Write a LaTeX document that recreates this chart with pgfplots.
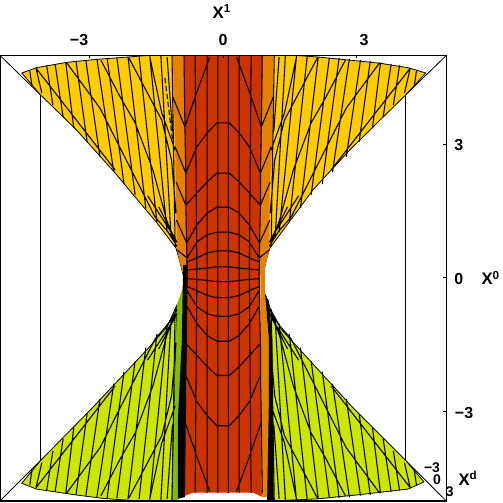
\documentclass[border=0pt]{standalone}
\usepackage{fontspec}
\setmainfont{Liberation Sans}
\usepackage{pgfplots}
\usepackage{pgfplotstable}
\pgfplotsset{compat=1.18}
\definecolor{surfyellow}{RGB}{255,204,0}
\definecolor{surforange}{RGB}{230,128,0}
\definecolor{surfred}{RGB}{204,51,0}
\definecolor{surflime}{RGB}{204,230,0}
\definecolor{surfgreen}{RGB}{128,191,0}

% mesh of the outer sheet, one quadrant (the sheet is mirrored in X^1 and X^0)
\pgfplotstableread{
x y
-4.35 4.66
-4.30 4.32
nan nan
-4.21 4.72
-4.08 4.16
nan nan
-3.97 4.78
-3.83 3.89
nan nan
-3.78 4.81
-3.60 3.62
nan nan
-3.54 4.84
-3.36 3.37
nan nan
-3.31 4.88
-3.06 3.06
nan nan
-3.09 4.90
-2.77 2.72
nan nan
-2.84 4.93
-2.46 2.38
nan nan
-2.61 4.95
-2.23 2.11
nan nan
-2.39 4.95
-1.98 1.87
nan nan
-2.14 4.97
-1.74 1.57
nan nan
-1.89 4.97
-1.49 1.26
nan nan
-1.65 4.99
-1.26 1.03
nan nan
-1.40 4.99
-1.17 0.90
nan nan
-1.15 5.00
-1.08 0.70
nan nan
-4.21 4.72
-2.43 2.43
nan nan
-3.52 4.84
-2.77 3.82
-1.53 1.37
-1.25 1.05
-1.04 0.72
nan nan
-2.75 4.90
-2.32 4.08
-1.98 3.49
-1.58 2.43
-1.27 1.30
-1.05 0.70
nan nan
-2.12 4.95
-1.38 3.55
-1.16 2.65
-1.06 1.46
nan nan
-1.65 4.97
-1.38 3.71
-1.08 2.88
nan nan
-1.45 1.60
-1.04 0.80
nan nan
-1.26 4.97
-1.14 3.30
nan nan
-1.70 1.85
-1.15 1.00
}\outermesh

% mesh of the central sheet, one quadrant
\pgfplotstableread{
x y
-0.88 5.00
-0.86 3.40
-0.84 2.36
-0.84 1.64
-0.82 0.79
-0.81 0.08
nan nan
-0.63 5.00
-0.59 0.08
nan nan
-0.36 5.00
-0.36 0.08
nan nan
-0.12 5.00
-0.12 0.08
nan nan
-0.86 3.40
-0.60 4.16
-0.30 4.97
nan nan
-0.84 2.36
-0.59 2.95
-0.36 3.26
-0.14 3.49
0 3.49
nan nan
-0.84 1.64
-0.59 1.91
-0.36 2.16
-0.14 2.36
0 2.36
nan nan
-0.82 0.79
-0.59 1.19
-0.36 1.46
-0.14 1.59
0 1.59
nan nan
-0.81 0.45
-0.59 0.81
-0.36 0.97
-0.14 1.03
0 1.03
nan nan
-0.81 0.36
-0.59 0.45
-0.36 0.56
-0.14 0.61
0 0.61
nan nan
-0.81 0.18
-0.59 0.20
-0.36 0.22
-0.14 0.25
0 0.25
}\centermesh

% short lines in the orange band, top half only
\pgfplotstableread{
x y
-1.13 4.07
-0.86 3.40
nan nan
-1.08 2.95
-0.84 2.36
nan nan
-1.06 2.16
-0.84 1.64
nan nan
-1.05 1.30
-0.82 0.79
nan nan
-1.04 0.63
-0.81 0.45
}\armmesh

\tikzset{
    lab/.style={font=\bfseries\fontsize{12}{14}\selectfont, inner sep=0pt},
    depthlab/.style={font=\bfseries\fontsize{10.5}{12}\selectfont, inner sep=0pt},
    axlab/.style={font=\bfseries\fontsize{12.5}{14}\selectfont, inner sep=0pt},
}

\begin{document}
\begin{tikzpicture}
\useasboundingbox (0,-1.5pt) rectangle (377.25pt,375.7pt);
\begin{axis}[
    at={(0,0)}, anchor=south west,
    scale only axis, width=334.7pt, height=334.1pt,
    xmin=-5.02, xmax=5.02, ymin=-5.017, ymax=5.005,
    axis on top, clip=false,
    axis line style={black, line width=0.9pt},
    xtick={-3,0,3}, ytick={-3,0,3},
    xtick pos=top, ytick pos=right, tick align=inside,
    major tick length=2.2pt,
    tick style={black, line width=0.7pt},
    xticklabel=\empty, yticklabel=\empty,
    unbounded coords=jump,
]
    % back of the box
    \addplot [black, line width=0.75pt] coordinates {
        (-4.11,4.12) (4.11,4.12) (4.11,-4.11) (-4.11,-4.11) (-4.11,4.12)
    };
    \addplot [black, line width=0.6pt] coordinates {
        (-5.02,5.005) (-4.11,4.12) (nan,nan) (5.02,5.005) (4.11,4.12) (nan,nan)
        (5.02,-5.017) (4.11,-4.11) (nan,nan) (-5.02,-5.017) (-4.11,-4.11)
    };

    % lime sheets, lower half
    \addplot [fill=surflime, draw=black, line width=0.6pt] coordinates {
        (-4.53,-4.62) (-4.20,-4.75) (-3.33,-4.88) (-2.70,-4.96) (-1.92,-5.017)
        (-1.15,-5.017) (-1.06,-1.39) (-1.04,-0.61) (-1.26,-1.10) (-1.72,-1.62)
        (-2.92,-2.90) (-4.11,-4.11)
    } --cycle;
    \addplot [fill=surflime, draw=black, line width=0.6pt] coordinates {
        (1.12,-5.017) (2.13,-4.97) (3.03,-4.88) (4.16,-4.75) (4.52,-4.59)
        (4.11,-4.11) (2.92,-2.92) (1.77,-1.66) (1.32,-1.17) (1.05,-0.67)
        (1.01,-0.49) (1.10,-1.39)
    } --cycle;

    % yellow sheet, upper half
    \addplot [fill=surfyellow, draw=black, line width=0.6pt] coordinates {
        (-4.53,4.61) (-4.20,4.73) (-3.52,4.85) (-2.82,4.92) (-2.14,4.97)
        (-1.69,5.005) (1.66,5.005) (2.13,4.97) (2.85,4.90) (3.53,4.83)
        (4.16,4.73) (4.56,4.61) (4.11,4.12) (3.60,3.62) (2.85,2.88)
        (2.02,1.98) (1.57,1.37) (1.05,0.67) (0.96,0.36) (0.90,0.07)
        (-0.90,0.07) (-0.97,0.36) (-1.06,0.67) (-1.49,1.24) (-1.87,1.69)
        (-2.43,2.36) (-3.30,3.33) (-4.11,4.12)
    } --cycle;

    % orange band behind the centre
    \addplot [fill=surforange, draw=none] coordinates {
        (-1.13,5.005) (1.13,5.005) (1.10,2.88) (1.05,2.14) (1.04,0.63)
        (0.90,0.07) (-0.90,0.07) (-1.04,0.63) (-1.08,2.88) (-1.11,4.00)
    } --cycle;

    % centre
    \addplot [fill=surfred, draw=none] coordinates {
        (-0.88,5.005) (0.89,5.005) (0.87,3.40) (0.83,1.59) (0.82,0.40)
        (0.83,-1.40) (0.87,-4.92) (0.67,-4.83) (-0.68,-4.83) (-0.90,-4.92)
        (-0.84,-3.26) (-0.81,-1.40) (-0.83,-0.01) (-0.84,1.64) (-0.86,3.40)
    } --cycle;

    % bands beside the centre, lower half
    \addplot [fill=surfgreen, draw=none] coordinates {
        (-0.90,-0.20) (-1.04,-0.61) (-1.15,-5.017) (-1.02,-5.017) (-0.93,-1.39)
    } --cycle;
    \addplot [fill=black, draw=none] coordinates {
        (-0.90,0.29) (-0.81,0.29) (-0.81,-1.39) (-0.84,-3.26) (-0.86,-4.93)
        (-1.02,-4.97) (-1.02,-3.26) (-0.93,-1.39)
    } --cycle;
    \addplot [fill=surforange, draw=none] coordinates {
        (0.84,0.36) (0.94,0.36) (0.94,-0.38) (1.03,-1.39) (1.03,-4.93)
        (0.87,-4.93) (0.84,-1.39)
    } --cycle;
    \addplot [fill=black, draw=none] coordinates {
        (0.94,-0.34) (1.01,-0.49) (1.10,-1.39) (1.10,-2.74) (1.14,-5.017)
        (0.99,-5.017) (1.03,-2.74) (1.03,-1.39)
    } --cycle;

    % mesh
    \pgfplotsset{mesh line/.style={black, line width=0.8pt, no markers}}
    \addplot [mesh line] table [x=x, y=y] {\outermesh};
    \addplot [mesh line] table [x expr=-\thisrow{x}, y=y] {\outermesh};
    \addplot [mesh line] table [x=x, y expr=-\thisrow{y}] {\outermesh};
    \addplot [mesh line] table [x expr=-\thisrow{x}, y expr=-\thisrow{y}] {\outermesh};

    \addplot [mesh line] table [x=x, y=y] {\centermesh};
    \addplot [mesh line] table [x expr=-\thisrow{x}, y=y] {\centermesh};
    \addplot [mesh line] table [x=x, y expr=0.165-\thisrow{y}] {\centermesh};
    \addplot [mesh line] table [x expr=-\thisrow{x}, y expr=0.165-\thisrow{y}] {\centermesh};

    \addplot [mesh line] table [x=x, y=y] {\armmesh};
    \addplot [mesh line] table [x expr=-\thisrow{x}, y=y] {\armmesh};

    % broken line in the yellow, left of the centre
    \addplot [black, line width=0.8pt, dash pattern=on 4pt off 2pt] coordinates {
        (-1.31,4.50) (-1.13,3.04)
    };

    % labels
    \node [lab] at (axis cs:-3.24,5.35) {−3};
    \node [lab] at (axis cs:0,5.35) {0};
    \node [lab] at (axis cs:3.17,5.35) {3};
    \node [lab] at (axis cs:5.30,2.98) {3};
    \node [lab] at (axis cs:5.30,-0.02) {0};
    \node [lab] at (axis cs:5.42,-3.03) {−3};
    \node [depthlab] at (axis cs:4.70,-4.27) {−3};
    \node [depthlab] at (axis cs:4.81,-4.54) {0};
    \node [depthlab] at (axis cs:5.10,-4.81) {3};
    \node [axlab] at (axis cs:-0.03,6.00) {X\textsuperscript{1}};
    \node [axlab] at (axis cs:6.02,0) {X\textsuperscript{0}};
    \node [axlab] at (axis cs:5.51,-4.50) {X\textsuperscript{d}};
\end{axis}
\end{tikzpicture}
\end{document}
